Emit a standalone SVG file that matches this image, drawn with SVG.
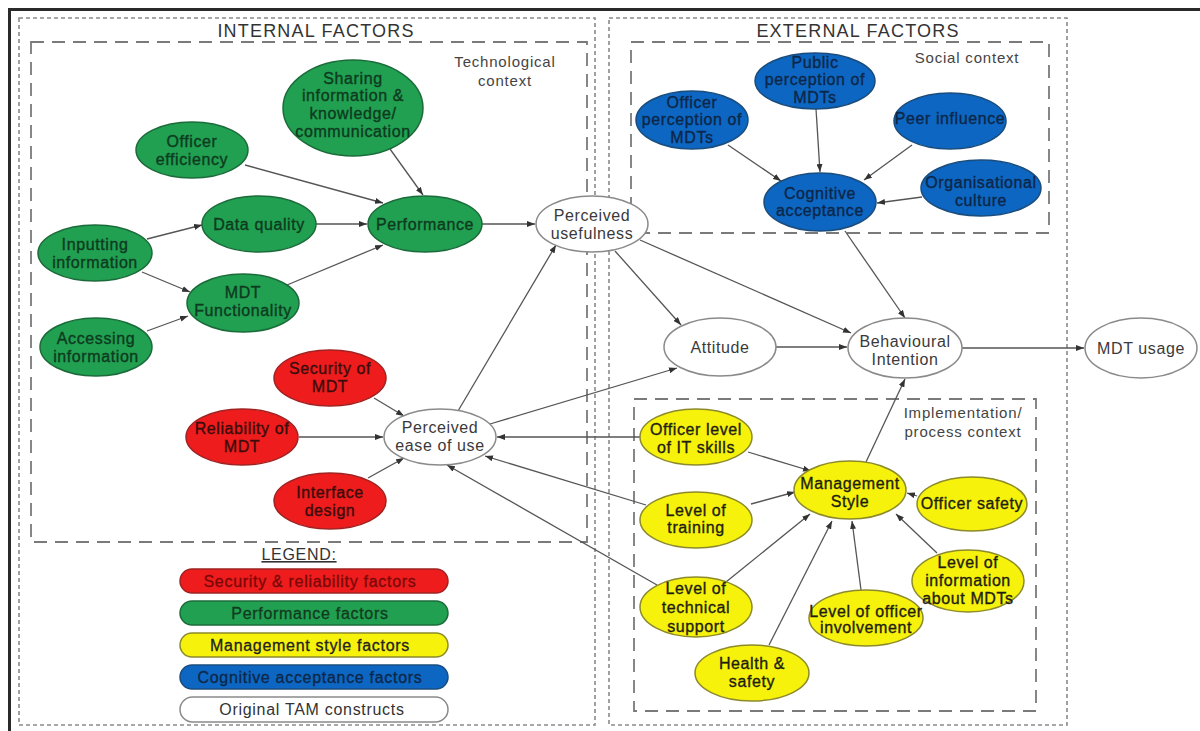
<svg xmlns="http://www.w3.org/2000/svg" width="1200" height="731" viewBox="0 0 1200 731">
  <style>
    .bg { fill: #ffffff; }
    .frame { fill: none; stroke: #2a2a2a; stroke-width: 3; }
    .outer { fill: none; stroke: #8a8a8a; stroke-width: 1.6; stroke-dasharray: 4 3; }
    .ctx { fill: none; stroke: #7a7a7a; stroke-width: 1.8; stroke-dasharray: 13 8; }
    .hdr { font-family: "Liberation Sans", Arial, sans-serif; font-size: 18px; fill: #333; text-anchor: middle; letter-spacing: 1.2px; }
    .ctxt { font-family: "Liberation Sans", Arial, sans-serif; font-size: 15px; fill: #444; text-anchor: middle; letter-spacing: 0.8px; }
    .lbl { font-family: "Liberation Sans", Arial, sans-serif; font-size: 16px; text-anchor: middle; letter-spacing: 0.6px; stroke-width: 0.35px; }
    .g .lbl { fill: #0e3a1f; stroke: #0e3a1f; }
    .r .lbl { fill: #3a0c0c; stroke: #3a0c0c; }
    .y .lbl { fill: #1e1e10; stroke: #1e1e10; }
    .bl .lbl { fill: #0d2748; stroke: #0d2748; }
    .wh .lbl { fill: #3a3a3a; stroke: none; }
    .g ellipse, .g rect { fill: #20a050; stroke: #1b6b3a; stroke-width: 1.5; }
    .r ellipse, .r rect { fill: #ee1c1c; stroke: #a02222; stroke-width: 1.5; }
    .y ellipse, .y rect { fill: #f6f20c; stroke: #8c8a2a; stroke-width: 1.5; }
    .bl ellipse, .bl rect { fill: #0c66c2; stroke: #1a4c7c; stroke-width: 1.5; }
    .wh ellipse, .wh rect { fill: #ffffff; stroke: #8a8a8a; stroke-width: 1.5; }
    .edge { fill: none; stroke: #555; stroke-width: 1.3; marker-end: url(#arrow); }
    .leg { font-family: "Liberation Sans", Arial, sans-serif; font-size: 16px; text-anchor: middle; letter-spacing: 0.7px; stroke-width: 0.3px; }
  </style>
  <defs>
    <marker id="arrow" viewBox="0 0 8 6" refX="8" refY="3" markerWidth="8" markerHeight="6" markerUnits="userSpaceOnUse" orient="auto">
      <path d="M0,0 L8,3 L0,6 z" fill="#333"/>
    </marker>
  </defs>

  <rect class="bg" x="0" y="0" width="1200" height="731"/>
  <path class="frame" d="M9.5,731 V9.5 H1200"/>

  <!-- context boxes -->
  <g id="boxes">
    <rect class="outer" x="19" y="18" width="576" height="707"/>
    <rect class="outer" x="609" y="18" width="458" height="707"/>
    <rect class="ctx" x="31" y="42" width="556" height="500"/>
    <rect class="ctx" x="631" y="42" width="418" height="191"/>
    <rect class="ctx" x="634" y="399" width="402" height="312"/>
    <text class="hdr" x="316" y="37">INTERNAL FACTORS</text>
    <text class="hdr" x="858" y="37">EXTERNAL FACTORS</text>
    <text class="ctxt" x="505" y="67">Technological</text>
    <text class="ctxt" x="505" y="86">context</text>
    <text class="ctxt" x="967" y="63">Social context</text>
    <text class="ctxt" x="963" y="418">Implementation/</text>
    <text class="ctxt" x="963" y="437">process context</text>
  </g>

  <!-- connectors -->
  <g id="connectors">
    <path class="edge" d="M245,165 L383,203"/>
    <path class="edge" d="M390,149 L423,195"/>
    <path class="edge" d="M316,224 L367,224"/>
    <path class="edge" d="M147,239 L202,225"/>
    <path class="edge" d="M142,272 L190,292"/>
    <path class="edge" d="M147,331 L188,316"/>
    <path class="edge" d="M287,285 L383,245"/>
    <path class="edge" d="M482,224 L535,224"/>
    <path class="edge" d="M458,411 L556,245"/>
    <path class="edge" d="M490,424 L677,368"/>
    <path class="edge" d="M374,398 L404,416"/>
    <path class="edge" d="M299,437 L383,437"/>
    <path class="edge" d="M368,478 L404,458"/>
    <path class="edge" d="M640,437 L497,437"/>
    <path class="edge" d="M646,505 L485,456"/>
    <path class="edge" d="M657,585 L447,465"/>
    <path class="edge" d="M615,251 L681,325"/>
    <path class="edge" d="M640,240 L851,333"/>
    <path class="edge" d="M845,231 L905,318"/>
    <path class="edge" d="M776,347 L847,347"/>
    <path class="edge" d="M962,348 L1084,348"/>
    <path class="edge" d="M728,145 L781,181"/>
    <path class="edge" d="M816,109 L820,172"/>
    <path class="edge" d="M912,145 L864,180"/>
    <path class="edge" d="M922,197 L877,203"/>
    <path class="edge" d="M866,462 L905,379"/>
    <path class="edge" d="M748,452 L811,471"/>
    <path class="edge" d="M751,504 L795,492"/>
    <path class="edge" d="M726,582 L810,514"/>
    <path class="edge" d="M769,645 L832,521"/>
    <path class="edge" d="M861,590 L852,521"/>
    <path class="edge" d="M937,553 L896,514"/>
    <path class="edge" d="M917,496 L907,493"/>
  </g>

  <!-- performance factors -->
  <g id="sharing" class="g">
    <ellipse cx="353" cy="108" rx="70" ry="48"/>
    <text class="lbl" x="353" y="83.5">Sharing<tspan x="353" dy="17.5">information &amp;</tspan><tspan x="353" dy="17.5">knowledge/</tspan><tspan x="353" dy="18.5">communication</tspan></text>
  </g>
  <g id="officer-efficiency" class="g">
    <ellipse cx="192" cy="150" rx="56" ry="28"/>
    <text class="lbl" x="192" y="147">Officer<tspan x="192" dy="17.5">efficiency</tspan></text>
  </g>
  <g id="data-quality" class="g">
    <ellipse cx="259" cy="224" rx="57" ry="28"/>
    <text class="lbl" x="259" y="229.5">Data quality</text>
  </g>
  <g id="performance" class="g">
    <ellipse cx="425" cy="224" rx="57" ry="28"/>
    <text class="lbl" x="425" y="229.5">Performance</text>
  </g>
  <g id="inputting" class="g">
    <ellipse cx="95" cy="253" rx="57" ry="28"/>
    <text class="lbl" x="95" y="250">Inputting<tspan x="95" dy="17.5">information</tspan></text>
  </g>
  <g id="mdt-functionality" class="g">
    <ellipse cx="243" cy="303" rx="56" ry="29"/>
    <text class="lbl" x="243" y="298">MDT<tspan x="243" dy="18">Functionality</tspan></text>
  </g>
  <g id="accessing" class="g">
    <ellipse cx="96" cy="347" rx="56" ry="29"/>
    <text class="lbl" x="96" y="343.5">Accessing<tspan x="96" dy="18">information</tspan></text>
  </g>

  <!-- security & reliability factors -->
  <g id="security" class="r">
    <ellipse cx="330" cy="378" rx="56" ry="28"/>
    <text class="lbl" x="330" y="373.5">Security of<tspan x="330" dy="18">MDT</tspan></text>
  </g>
  <g id="reliability" class="r">
    <ellipse cx="242" cy="437" rx="56" ry="28"/>
    <text class="lbl" x="242" y="433.5">Reliability of<tspan x="242" dy="18">MDT</tspan></text>
  </g>
  <g id="interface" class="r">
    <ellipse cx="330" cy="501" rx="56" ry="28"/>
    <text class="lbl" x="330" y="497.5">Interface<tspan x="330" dy="18">design</tspan></text>
  </g>

  <!-- original TAM constructs -->
  <g id="perceived-usefulness" class="wh">
    <ellipse cx="592" cy="224" rx="56" ry="28"/>
    <text class="lbl" x="592" y="220.5">Perceived<tspan x="592" dy="18">usefulness</tspan></text>
  </g>
  <g id="perceived-ease" class="wh">
    <ellipse cx="440" cy="437" rx="56" ry="28"/>
    <text class="lbl" x="440" y="432.5">Perceived<tspan x="440" dy="18">ease of use</tspan></text>
  </g>
  <g id="attitude" class="wh">
    <ellipse cx="720" cy="347" rx="56" ry="29"/>
    <text class="lbl" x="720" y="352.5">Attitude</text>
  </g>
  <g id="behavioural-intention" class="wh">
    <ellipse cx="905" cy="348" rx="57" ry="30"/>
    <text class="lbl" x="905" y="346.5">Behavioural<tspan x="905" dy="18">Intention</tspan></text>
  </g>
  <g id="mdt-usage" class="wh">
    <ellipse cx="1141" cy="348" rx="56" ry="30"/>
    <text class="lbl" x="1141" y="353.5">MDT usage</text>
  </g>

  <!-- cognitive acceptance factors -->
  <g id="officer-perception" class="bl">
    <ellipse cx="692" cy="120" rx="56" ry="29"/>
    <text class="lbl" x="692" y="107.5">Officer<tspan x="692" dy="17.5">perception of</tspan><tspan x="692" dy="17.5">MDTs</tspan></text>
  </g>
  <g id="public-perception" class="bl">
    <ellipse cx="815" cy="81" rx="60" ry="28"/>
    <text class="lbl" x="815" y="67.5">Public<tspan x="815" dy="17.5">perception of</tspan><tspan x="815" dy="17.5">MDTs</tspan></text>
  </g>
  <g id="peer-influence" class="bl">
    <ellipse cx="950" cy="121" rx="56" ry="28"/>
    <text class="lbl" x="950" y="124">Peer influence</text>
  </g>
  <g id="cognitive-acceptance" class="bl">
    <ellipse cx="820" cy="202" rx="56" ry="29"/>
    <text class="lbl" x="820" y="198.5">Cognitive<tspan x="820" dy="17.5">acceptance</tspan></text>
  </g>
  <g id="organisational-culture" class="bl">
    <ellipse cx="981" cy="188" rx="60" ry="28"/>
    <text class="lbl" x="981" y="188">Organisational<tspan x="981" dy="17.5">culture</tspan></text>
  </g>

  <!-- management style factors -->
  <g id="it-skills" class="y">
    <ellipse cx="696" cy="437" rx="56" ry="28"/>
    <text class="lbl" x="696" y="435">Officer level<tspan x="696" dy="17.5">of IT skills</tspan></text>
  </g>
  <g id="management-style" class="y">
    <ellipse cx="850" cy="490" rx="56" ry="29"/>
    <text class="lbl" x="850" y="488.5">Management<tspan x="850" dy="18">Style</tspan></text>
  </g>
  <g id="officer-safety" class="y">
    <ellipse cx="972" cy="504" rx="55" ry="27"/>
    <text class="lbl" x="972" y="508.5">Officer safety</text>
  </g>
  <g id="training" class="y">
    <ellipse cx="696" cy="520" rx="56" ry="28"/>
    <text class="lbl" x="696" y="515.5">Level of<tspan x="696" dy="17.5">training</tspan></text>
  </g>
  <g id="technical-support" class="y">
    <ellipse cx="696" cy="607" rx="56" ry="30"/>
    <text class="lbl" x="696" y="594">Level of<tspan x="696" dy="19">technical</tspan><tspan x="696" dy="19">support</tspan></text>
  </g>
  <g id="level-of-information" class="y">
    <ellipse cx="968" cy="581" rx="56" ry="31"/>
    <text class="lbl" x="968" y="567.5">Level of<tspan x="968" dy="18">information</tspan><tspan x="968" dy="18">about MDTs</tspan></text>
  </g>
  <g id="officer-involvement" class="y">
    <ellipse cx="866" cy="618" rx="57" ry="28"/>
    <text class="lbl" x="866" y="617">Level of officer<tspan x="866" dy="16">involvement</tspan></text>
  </g>
  <g id="health-safety" class="y">
    <ellipse cx="752" cy="673" rx="57" ry="28"/>
    <text class="lbl" x="752" y="668.5">Health &amp;<tspan x="752" dy="18.5">safety</tspan></text>
  </g>

  <!-- legend -->
  <g id="legend">
    <text class="leg" x="299" y="560" fill="#333" text-decoration="underline">LEGEND:</text>
    <g class="r"><rect x="180" y="569" width="268" height="24" rx="12"/></g>
    <text class="leg" x="310" y="586.5" fill="#7a0808" stroke="#7a0808">Security &amp; reliability factors</text>
    <g class="g"><rect x="180" y="601" width="268" height="24" rx="12"/></g>
    <text class="leg" x="310" y="618.5" fill="#123a1e" stroke="#123a1e">Performance factors</text>
    <g class="y"><rect x="180" y="633" width="268" height="24" rx="12"/></g>
    <text class="leg" x="310" y="650.5" fill="#222" stroke="#222">Management style factors</text>
    <g class="bl"><rect x="180" y="665" width="268" height="24" rx="12"/></g>
    <text class="leg" x="310" y="683" fill="#0d2748" stroke="#0d2748">Cognitive acceptance factors</text>
    <g class="wh"><rect x="180" y="697" width="268" height="25" rx="12.5"/></g>
    <text class="leg" x="312" y="714.5" fill="#333">Original TAM constructs</text>
  </g>
</svg>
